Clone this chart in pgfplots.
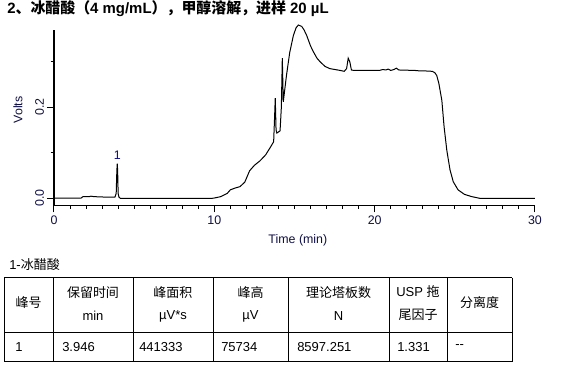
\documentclass[border=0pt]{standalone}
\usepackage{fontspec}
\setmainfont{Liberation Sans}
\newfontfamily\cjk{Noto Sans CJK SC}
\usepackage{pgfplots}
\pgfplotsset{compat=1.18}
\definecolor{lab}{RGB}{15,15,70}
\definecolor{pk}{RGB}{10,10,140}
\newcommand{\zh}[1]{{\cjk #1}}
\begin{document}
\begin{tikzpicture}[x=0.75pt,y=0.75pt]
\path[use as bounding box] (0,0) rectangle (562,371);
\begin{axis}[
  at={(40.5pt,124.125pt)}, anchor=south west,
  scale only axis, width=360.75pt, height=131.6pt,
  xmin=0, xmax=30, ymin=-0.0165, ymax=0.37,
  axis lines=left, axis line style={-, line width=0.8pt},
  clip=false,
  xtick={0,10,20,30}, minor x tick num=9,
  ytick={0,0.2}, yticklabels={0.0,0.2}, minor ytick={0.1,0.3},
  tick align=outside, major tick length=5.25pt, minor tick length=2.6pt,
  tick style={line width=0.75pt, black},
  /pgf/number format/assume math mode=true,
  tick label style={font=\fontsize{9.3}{10}\selectfont, text=lab},
  xticklabel style={anchor=north, inner sep=2.5pt},
  yticklabel style={rotate=90, anchor=south, inner sep=2pt},
  xlabel={Time (min)}, ylabel={Volts},
  label style={font=\fontsize{9.3}{10}\selectfont, text=lab},
  xlabel style={at={(axis description cs:0.507,-0.197)}, anchor=center},
  ylabel style={at={(axis description cs:-0.0748,0.544)}, anchor=center},
]
\addplot[black, line width=0.75pt, mark=none] coordinates {
(0,0.000) (1.7,0.000) (1.8,0.003) (2.2,0.003) (2.3,0.004) (2.5,0.003)
(3.2,0.002) (3.8,0.002) (3.88,0.010) (3.92,0.060) (3.946,0.0757)
(3.97,0.060) (4.0,0.010) (4.05,0.002) (4.15,-0.001) (9.8,-0.001)
(10.0,0.000) (10.4,0.003) (10.8,0.010) (11.0,0.018) (11.3,0.022)
(11.6,0.025) (11.9,0.035) (12.2,0.060) (12.5,0.072) (12.85,0.082)
(13.2,0.095) (13.5,0.112) (13.7,0.124) (13.75,0.17) (13.8,0.22)
(13.85,0.15) (13.9,0.143) (14.1,0.148) (14.18,0.20) (14.24,0.308)
(14.3,0.212) (14.5,0.27) (14.7,0.32) (14.93,0.358) (15.1,0.375)
(15.24,0.381) (15.45,0.378) (15.6,0.37) (15.76,0.358) (16.0,0.335)
(16.18,0.322) (16.4,0.308) (16.6,0.300) (16.9,0.290) (17.2,0.285)
(17.85,0.281) (18.1,0.279) (18.25,0.285) (18.35,0.308) (18.45,0.300)
(18.55,0.282) (18.7,0.281) (20.3,0.281) (20.5,0.283) (20.7,0.282)
(20.85,0.284) (21.0,0.281) (21.2,0.283) (21.35,0.286) (21.5,0.282)
(22.5,0.281) (22.8,0.280) (23.1,0.280) (23.6,0.279) (23.75,0.276)
(23.87,0.270) (24.0,0.253) (24.19,0.215) (24.33,0.157) (24.5,0.105)
(24.7,0.062) (24.9,0.036) (25.2,0.018) (25.6,0.008) (26.06,0.003)
(26.6,-0.001) (30,-0.001)
};
\node[text=pk, font=\fontsize{9.3}{10}\selectfont, anchor=south, inner sep=0pt] at (axis cs:3.946,0.084) {1};
\end{axis}
% title
\node[anchor=west, inner sep=0pt, font=\bfseries\fontsize{11.2}{13}\selectfont] at (7,362.5)
  {2\zh{、冰醋酸（}4 mg/mL\zh{），甲醇溶解，进样} 20 µL};
% table caption
\node[anchor=west, inner sep=0pt, font=\fontsize{9.75}{11}\selectfont] at (9,106) {1-\zh{冰醋酸}};
% table lines
\begin{scope}[line width=0.75pt]
\draw (4,93) -- (512,93);
\draw (4,38) -- (512,38);
\draw (4,9) -- (512,9);
\foreach \xx in {4,53,133,213,288,389,447,512} { \draw (\xx,93) -- (\xx,9); }
\end{scope}
\begin{scope}[every node/.style={inner sep=0pt, font=\fontsize{9.75}{11}\selectfont}]
\node at (28.5,68) {\zh{峰号}};
\node at (93,78) {\zh{保留时间}};
\node at (93,55) {min};
\node at (173,78) {\zh{峰面积}};
\node at (173,55) {µV*s};
\node at (250.5,78) {\zh{峰高}};
\node at (250.5,55) {µV};
\node at (338.5,78) {\zh{理论塔板数}};
\node at (338.5,55) {N};
\node at (418,79) {USP \zh{拖}};
\node at (418,56) {\zh{尾因子}};
\node at (479.5,68) {\zh{分离度}};
\node[anchor=west] at (15,24.3) {1};
\node[anchor=west] at (62,24.3) {3.946};
\node[anchor=west] at (139,24.3) {441333};
\node[anchor=west] at (221,24.3) {75734};
\node[anchor=west] at (297,24.3) {8597.251};
\node[anchor=west] at (397,24.3) {1.331};
\node[anchor=west] at (455,24.3) {{-}{-}};
\end{scope}
\end{tikzpicture}
\end{document}
